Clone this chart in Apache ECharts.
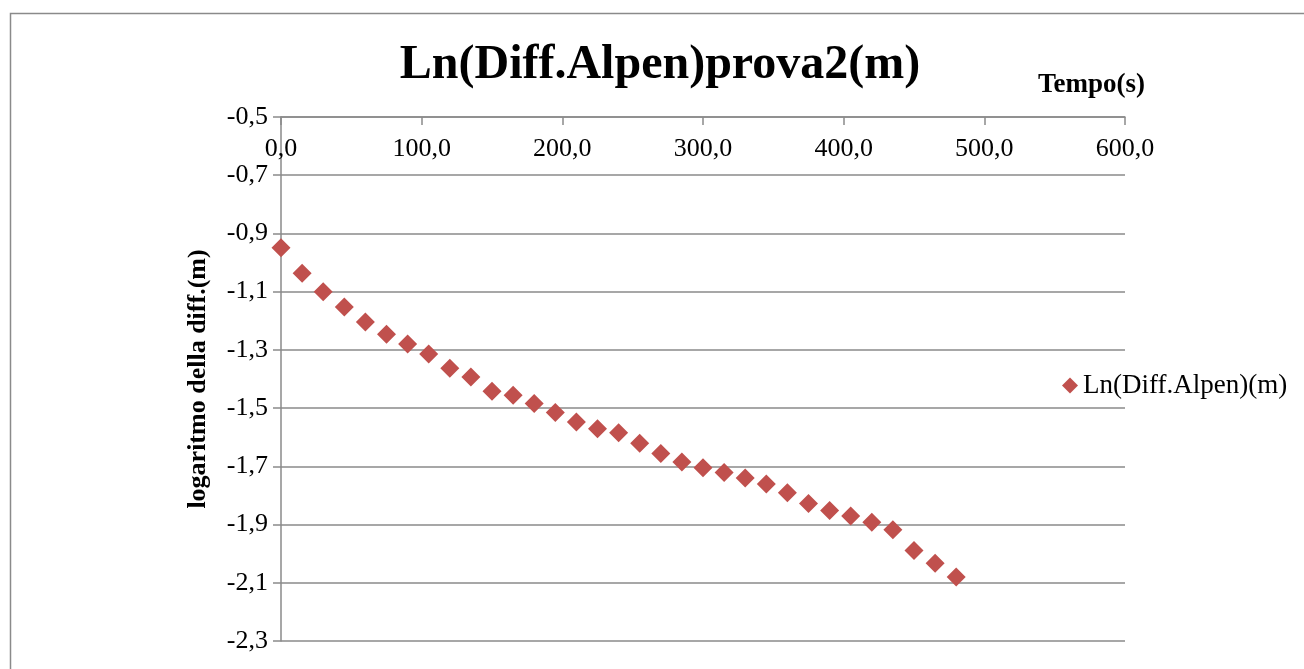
<!DOCTYPE html>
<html>
<head>
<meta charset="utf-8">
<script src="https://cdn.jsdelivr.net/npm/echarts@6/dist/echarts.min.js"></script>
<style>
html,body{margin:0;padding:0;background:#fff;}
#chart{width:1304px;height:669px;}
</style>
</head>
<body>
<div id="chart"></div>
<script>
const chartTitle = 'Ln(Diff.Alpen)prova2(m)';
const seriesName = 'Ln(Diff.Alpen)(m)';
const xAxisName = 'Tempo(s)';
const yAxisName = 'logaritmo della diff.(m)';
const timeSeconds = [0,15,30,45,60,75,90,105,120,135,150,165,180,195,210,225,240,255,270,285,300,315,330,345,360,375,390,405,420,435,450,465,480];
const lnDiff = [-0.949,-1.037,-1.100,-1.153,-1.204,-1.246,-1.280,-1.314,-1.363,-1.393,-1.442,-1.456,-1.484,-1.515,-1.548,-1.571,-1.585,-1.621,-1.656,-1.685,-1.705,-1.721,-1.740,-1.761,-1.791,-1.828,-1.852,-1.871,-1.892,-1.918,-1.989,-2.033,-2.080];
const xTicks = [0,100,200,300,400,500,600];
const yTicks = [-2.3,-2.1,-1.9,-1.7,-1.5,-1.3,-1.1,-0.9,-0.7,-0.5];

const serif = "'Liberation Serif','Times New Roman',serif";
const fmt = v => Number(v).toFixed(1).replace('.', ',');
const points = timeSeconds.map((t, i) => [t, lnDiff[i]]);

const chart = echarts.init(document.getElementById('chart'), null, {renderer: 'canvas'});
chart.setOption({
  animation: false,
  backgroundColor: '#ffffff',
  graphic: [{
    type: 'rect',
    shape: {x: 10.5, y: 13.5, width: 1400, height: 700},
    style: {fill: 'none', stroke: '#8a8a8a', lineWidth: 1.5},
    silent: true
  }],
  title: {
    text: chartTitle,
    left: 655,
    textAlign: 'center',
    top: 37,
    textStyle: {fontFamily: serif, fontWeight: 'bold', fontSize: 48, color: '#000'}
  },
  legend: {
    data: [seriesName],
    left: 1057,
    top: 367,
    icon: 'diamond',
    itemWidth: 16,
    itemHeight: 16,
    itemGap: 4,
    textStyle: {fontFamily: serif, fontSize: 27, color: '#000'}
  },
  grid: {left: 281, right: 179, top: 117, bottom: 28, containLabel: false},
  xAxis: {
    type: 'value',
    position: 'top',
    min: xTicks[0],
    max: xTicks[xTicks.length - 1],
    interval: 100,
    name: xAxisName,
    nameLocation: 'end',
    nameGap: 20,
    nameTextStyle: {fontFamily: serif, fontWeight: 'bold', fontSize: 27, color: '#000', align: 'right', verticalAlign: 'bottom', padding: [0, 0, 18, 0]},
    axisLine: {show: true, lineStyle: {color: '#8a8a8a', width: 1.5}},
    axisTick: {show: true, inside: true, length: 8, lineStyle: {color: '#8a8a8a', width: 1.5}},
    axisLabel: {inside: true, margin: 19, formatter: fmt, fontFamily: serif, fontSize: 26, color: '#000'},
    splitLine: {show: false}
  },
  yAxis: {
    type: 'value',
    min: yTicks[0],
    max: yTicks[yTicks.length - 1],
    interval: 0.1,
    name: yAxisName,
    nameLocation: 'middle',
    nameGap: 70,
    nameRotate: 90,
    nameTextStyle: {fontFamily: serif, fontWeight: 'bold', fontSize: 26, color: '#000'},
    axisLine: {show: true, lineStyle: {color: '#8a8a8a', width: 1.5}},
    axisTick: {show: true, inside: false, length: 8, customValues: yTicks, lineStyle: {color: '#8a8a8a', width: 1.5}},
    axisLabel: {margin: 13, customValues: yTicks, formatter: fmt, fontFamily: serif, fontSize: 26, color: '#000'},
    splitLine: {show: true, lineStyle: {color: '#8a8a8a', width: 1.5}}
  },
  series: [{
    name: seriesName,
    type: 'scatter',
    data: points,
    symbol: 'diamond',
    symbolSize: 19,
    itemStyle: {color: '#C0504D', opacity: 1}
  }]
});
</script>
</body>
</html>
